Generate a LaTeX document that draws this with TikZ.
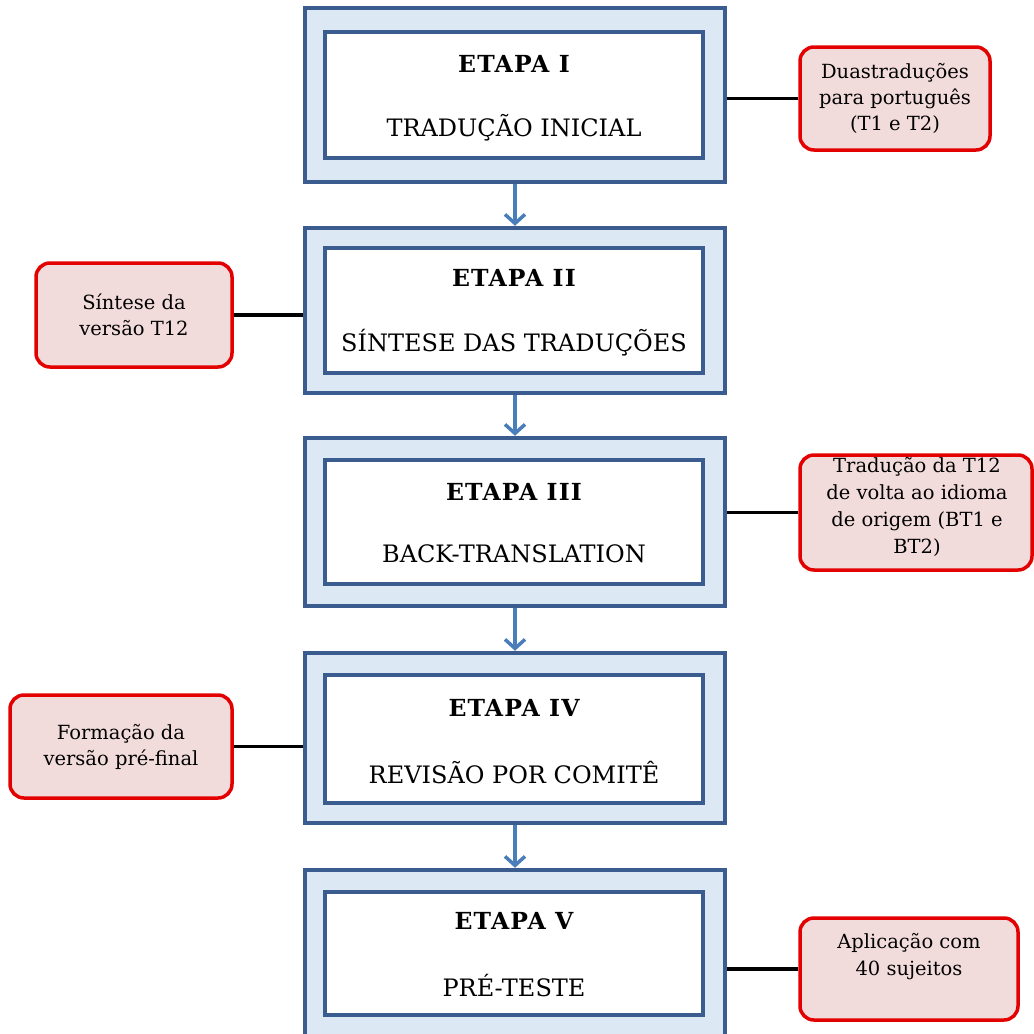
\documentclass[tikz,border=0pt]{standalone}
\usepackage{fontspec}
\setmainfont{DejaVu Serif}
\usetikzlibrary{arrows.meta}
\definecolor{bdr}{HTML}{3B5C8E}
\definecolor{lblue}{HTML}{DCE8F3}
\definecolor{arrc}{HTML}{4A7EBB}
\definecolor{pinkf}{HTML}{F2DCDB}
\definecolor{redb}{HTML}{E30000}
\begin{document}
\begin{tikzpicture}[x=1pt,y=-1pt,
  outerbox/.style={draw=bdr,line width=4.5pt,fill=lblue,minimum width=420pt,inner sep=0pt},
  innerbox/.style={draw=bdr,line width=4pt,fill=white,minimum width=378pt,inner sep=0pt},
  ttl/.style={font=\fontsize{23.5}{28}\selectfont\bfseries\addfontfeature{LetterSpace=5}},
  sub/.style={font=\fontsize{24}{28}\selectfont},
  sidebox/.style={draw=redb,line width=3.5pt,fill=pinkf,rounded corners=14pt,inner sep=0pt,align=center,font=\fontsize{19.5}{26}\selectfont},
  sidetext/.style={align=center,inner sep=0pt,font=\fontsize{19.5}{27}\selectfont},
  conn/.style={line width=3.5pt,black},
  flow/.style={draw=arrc,line width=3.5pt,-{Straight Barb[length=9pt,width=20pt,line width=3.5pt]}}]
\useasboundingbox (0,0) rectangle (1034,1034);
% stages
\node[outerbox,minimum height=174pt] (o1) at (515,95) {};
\node[innerbox,minimum height=126pt] (i1) at (514,95) {};
\node[ttl] (t1) at (514,64) {ETAPA I};
\node[sub] (s1) at (514,128) {TRADUÇÃO INICIAL};

\node[outerbox,minimum height=165pt] (o2) at (515,310.5) {};
\node[innerbox,minimum height=125pt] (i2) at (514,310.5) {};
\node[ttl] (t2) at (514,278) {ETAPA II};
\node[sub] (s2) at (514,343) {SÍNTESE DAS TRADUÇÕES};

\node[outerbox,minimum height=168pt] (o3) at (515,522) {};
\node[innerbox,minimum height=124pt] (i3) at (514,522) {};
\node[ttl] (t3) at (514,492) {ETAPA III};
\node[sub] (s3) at (514,554) {BACK-TRANSLATION};

\node[outerbox,minimum height=170pt] (o4) at (515,738) {};
\node[innerbox,minimum height=128pt] (i4) at (514,739) {};
\node[ttl] (t4) at (514,708) {ETAPA IV};
\node[sub] (s4) at (514,773) {REVISÃO POR COMITÊ};

\node[outerbox,minimum height=170pt] (o5) at (515,955) {};
\node[innerbox,minimum height=123pt] (i5) at (514,953.5) {};
\node[ttl] (t5) at (514,921) {ETAPA V};
\node[sub] (s5) at (514,986) {PRÉ-TESTE};

% arrows
\draw[flow] (o1.south) -- (o2.north);
\draw[flow] (o2.south) -- (o3.north);
\draw[flow] (o3.south) -- (o4.north);
\draw[flow] (o4.south) -- (o5.north);

% side boxes
\node[sidebox,minimum width=190pt,minimum height=103pt] (b1) at (895,98.5) {Duastraduções\\para português\\(T1 e T2)};
\node[sidebox,minimum width=196pt,minimum height=104pt] (b2) at (134,315) {Síntese da\\versão T12};
\node[sidebox,minimum width=232pt,minimum height=115pt] (b3) at (916,512.5) {};
\node[sidetext] (b3t) at (917,507) {Tradução da T12\\de volta ao idioma\\de origem (BT1 e\\BT2)};
\node[sidebox,minimum width=222pt,minimum height=103pt] (b4) at (121,746.5) {Formação da\\versão pré-final};
\node[sidebox,minimum width=218pt,minimum height=102pt] (b5) at (909,969) {};
\node[sidetext] (b5t) at (909,957) {Aplicação com\\40 sujeitos};

% connectors
\draw[conn] (b1.west) -- (b1.west -| o1.east);
\draw[conn] (b2.east) -- (b2.east -| o2.west);
\draw[conn] (b3.west) -- (b3.west -| o3.east);
\draw[conn] (b4.east) -- (b4.east -| o4.west);
\draw[conn] (b5.west) -- (b5.west -| o5.east);
\end{tikzpicture}
\end{document}
